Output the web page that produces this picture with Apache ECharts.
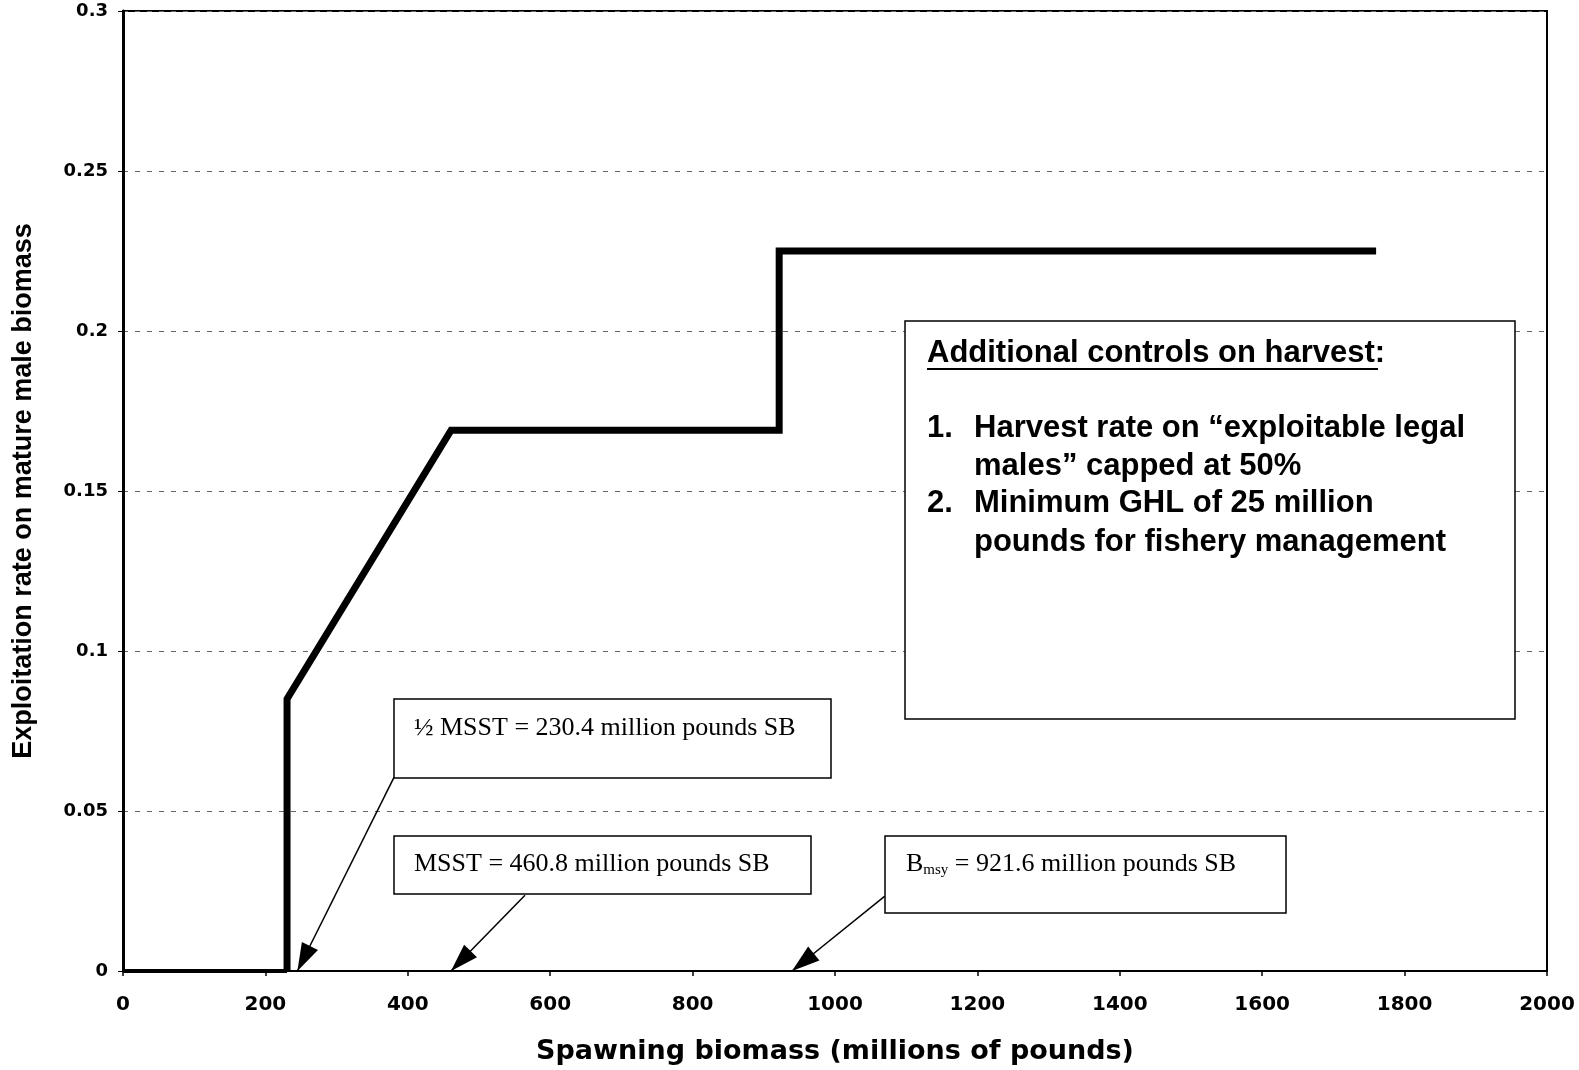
<!DOCTYPE html>
<html>
<head>
<meta charset="utf-8">
<script src="https://cdn.jsdelivr.net/npm/echarts@6/dist/echarts.min.js"></script>
<style>
html,body{margin:0;padding:0;background:#fff;}
#chart{width:1579px;height:1070px;}
</style>
</head>
<body>
<div id="chart"></div>
<script>
// Harvest control rule: [spawning biomass, exploitation rate]
const belowThreshold = [[0, 0], [230.4, 0]];
const harvestRule = [[230.4, 0], [230.4, 0.085], [460.8, 0.169], [921.6, 0.169], [921.6, 0.225], [1760, 0.225]];
// Arrow annotations: [from point, to point] in data units
const arrows = [
  [[380.6, 0.0605], [245, 0]],
  [[564.6, 0.0237], [460.7, 0]],
  [[1070, 0.0234], [939.6, 0]]
];
const xTicks = [0, 200, 400, 600, 800, 1000, 1200, 1400, 1600, 1800, 2000];
const yTicks = [0, 0.05, 0.1, 0.15, 0.2, 0.25, 0.3];

const chart = echarts.init(document.getElementById('chart'), null, {renderer: 'canvas'});

// arrow head whose tip sits at the centre of its bounding box
const arrowHead = 'path://M0,20L8,40L-8,40Z M0,0L0,0';

const option = {
  backgroundColor: '#fff',
  animation: false,
  grid: {left: 123, right: 32, top: 11, bottom: 98, show: true, borderColor: '#000', borderWidth: 2, backgroundColor: 'transparent'},
  xAxis: {
    type: 'value', min: xTicks[0], max: xTicks[xTicks.length - 1], interval: 200,
    name: 'Spawning biomass (millions of pounds)', nameLocation: 'middle', nameGap: 67,
    nameTextStyle: {fontFamily: 'DejaVu Sans', fontWeight: 'bold', fontSize: 27, color: '#000'},
    axisLine: {show: true, lineStyle: {color: '#000', width: 2}},
    axisTick: {show: true, length: 5, lineStyle: {color: '#000', width: 1.5}},
    axisLabel: {margin: 24, fontFamily: 'DejaVu Sans', fontWeight: 'bold', fontSize: 20, color: '#000',
      formatter: v => String(v)},
    splitLine: {show: false}
  },
  yAxis: {
    type: 'value', min: yTicks[0], max: yTicks[yTicks.length - 1], interval: 0.05,
    name: 'Exploitation rate on mature male biomass', nameLocation: 'middle', nameGap: 86,
    nameTextStyle: {fontFamily: 'Liberation Sans', fontWeight: 'bold', fontSize: 27, color: '#000'},
    axisLine: {show: true, lineStyle: {color: '#000', width: 3}},
    axisTick: {show: true, length: 5, lineStyle: {color: '#000', width: 1}},
    axisLabel: {margin: 15, fontFamily: 'DejaVu Sans', fontWeight: 'bold', fontSize: 18, color: '#000',
      formatter: v => String(+v.toFixed(2))},
    splitLine: {show: true, lineStyle: {color: '#666', width: 1, type: [5, 7]}}
  },
  series: [
    {
      type: 'line', data: belowThreshold, symbol: 'none',
      lineStyle: {color: '#000', width: 4}, z: 3
    },
    {
      type: 'line', data: harvestRule, symbol: 'none',
      lineStyle: {color: '#000', width: 7, join: 'miter'}, z: 3,
      markLine: {
        silent: true, symbol: ['none', arrowHead], symbolSize: [18, 56],
        lineStyle: {color: '#000', width: 1.5, type: 'solid'},
        label: {show: false},
        data: arrows.map(a => [{coord: a[0]}, {coord: a[1]}])
      }
    }
  ],
  graphic: [
    // half MSST box
    {type: 'rect', shape: {x: 394, y: 699, width: 437, height: 79}, style: {fill: '#fff', stroke: '#000', lineWidth: 1.5}, z: 10},
    {type: 'text', x: 414, y: 728, style: {text: '½ MSST = 230.4 million pounds SB', font: '26px "Liberation Serif"', fill: '#000', verticalAlign: 'middle'}, z: 11},
    // MSST box
    {type: 'rect', shape: {x: 394, y: 836, width: 417, height: 58}, style: {fill: '#fff', stroke: '#000', lineWidth: 1.5}, z: 10},
    {type: 'text', x: 414, y: 864, style: {text: 'MSST = 460.8 million pounds SB', font: '26px "Liberation Serif"', fill: '#000', verticalAlign: 'middle'}, z: 11},
    // Bmsy box
    {type: 'rect', shape: {x: 885, y: 836, width: 401, height: 77}, style: {fill: '#fff', stroke: '#000', lineWidth: 1.5}, z: 10},
    {type: 'text', x: 906, y: 864, style: {
      text: '{b|B}{s|msy}{b| = 921.6 million pounds SB}',
      verticalAlign: 'middle',
      rich: {
        b: {font: '26px "Liberation Serif"', fill: '#000', lineHeight: 30},
        s: {font: '15px "Liberation Serif"', fill: '#000', lineHeight: 30, padding: [12, 0, 0, 0]}
      }
    }, z: 11},
    // Additional controls box
    {type: 'rect', shape: {x: 905, y: 321, width: 610, height: 398}, style: {fill: '#fff', stroke: '#000', lineWidth: 1.5}, z: 10},
    {type: 'text', x: 927, y: 353, style: {text: 'Additional controls on harvest:', font: 'bold 31px "Liberation Sans"', fill: '#000', verticalAlign: 'middle'}, z: 11},
    {type: 'line', shape: {x1: 927, y1: 369, x2: 1378, y2: 369}, style: {stroke: '#000', lineWidth: 2}, z: 11},
    {type: 'text', x: 927, y: 428, style: {text: '1.', font: 'bold 31px "Liberation Sans"', fill: '#000', verticalAlign: 'middle'}, z: 11},
    {type: 'text', x: 974, y: 428, style: {text: 'Harvest rate on \u201cexploitable legal', font: 'bold 31px "Liberation Sans"', fill: '#000', verticalAlign: 'middle'}, z: 11},
    {type: 'text', x: 974, y: 466, style: {text: 'males\u201d capped at 50%', font: 'bold 31px "Liberation Sans"', fill: '#000', verticalAlign: 'middle'}, z: 11},
    {type: 'text', x: 927, y: 503, style: {text: '2.', font: 'bold 31px "Liberation Sans"', fill: '#000', verticalAlign: 'middle'}, z: 11},
    {type: 'text', x: 974, y: 503, style: {text: 'Minimum GHL of 25 million', font: 'bold 31px "Liberation Sans"', fill: '#000', verticalAlign: 'middle'}, z: 11},
    {type: 'text', x: 974, y: 542, style: {text: 'pounds for fishery management', font: 'bold 31px "Liberation Sans"', fill: '#000', verticalAlign: 'middle'}, z: 11}
  ]
};
chart.setOption(option);
</script>
</body>
</html>
